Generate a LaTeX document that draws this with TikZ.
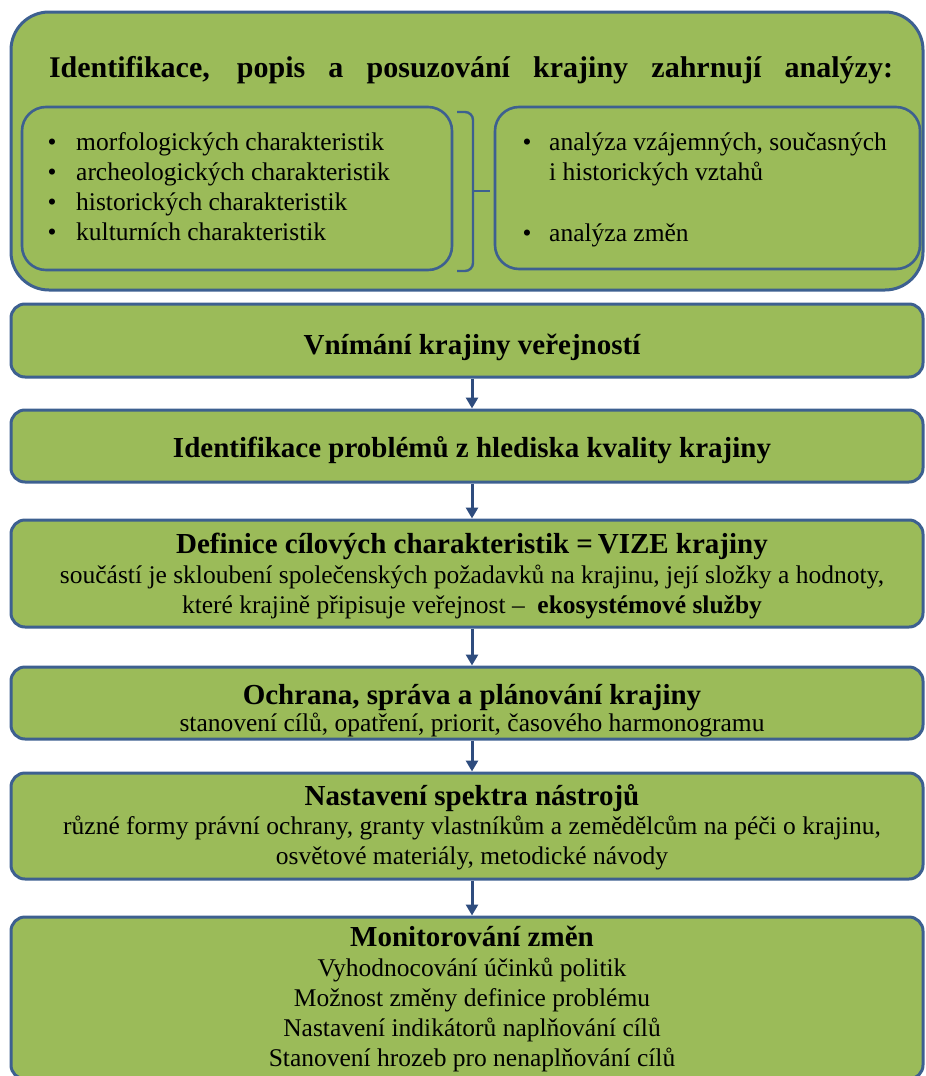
\documentclass[tikz,border=0pt]{standalone}
\usepackage{fontspec}
\setmainfont{Liberation Serif}
\usepackage{tikz}
\usetikzlibrary{arrows.meta}
\definecolor{lGreen}{HTML}{9BBB59}
\definecolor{lEdge}{HTML}{3D6090}
\definecolor{lDark}{HTML}{2E4C7E}
\tikzset{
  lBox/.style={draw=lEdge,fill=lGreen,line width=3pt,rounded corners=14pt,
        inner sep=0pt,minimum width=912pt},
  lInner/.style={lBox,line width=2.6pt,rounded corners=24pt},
  lTitle/.style={anchor=base,inner sep=0pt,font=\fontsize{29}{34}\selectfont\bfseries},
  lText/.style={anchor=base,inner sep=0pt,align=center,font=\fontsize{25.5}{30}\selectfont},
  lList/.style={anchor=base west,inner sep=0pt,align=left,font=\fontsize{25.5}{30}\selectfont},
  lArrow/.style={draw=lDark,line width=3pt,-{Triangle[width=12pt,length=11pt]}},
}
\newcommand\lbul[1][28.5pt]{\makebox[#1][l]{\textbullet}}

\begin{document}
\begin{tikzpicture}[x=1pt,y=-1pt]
\useasboundingbox (0,0) rectangle (926,1076);
% analyses (multi-line texts sit on the baseline of their last line)
\node[lBox,rounded corners=38pt,minimum height=278pt] (anal) at (467,151) {};
\node[lTitle,font=\fontsize{30}{36}\selectfont\bfseries] (analT) at (471,77)
  {\makebox[844pt][s]{Identifikace, popis a posuzování krajiny zahrnují analýzy:}};
\node[lInner,minimum width=430pt,minimum height=163pt] (charL) at (237,188.5) {};
\node[lInner,minimum width=425pt,minimum height=162pt] (charR) at (707.5,188) {};
\node[lList] (charLT) at (47.5,240) {\lbul morfologických charakteristik\\\lbul archeologických charakteristik\\\lbul historických charakteristik\\\lbul kulturních charakteristik};
\node[lList] (charRT) at (522.5,241) {\lbul[26.5pt]analýza vzájemných, současných\\\hspace*{26.5pt}i historických vztahů\\[31pt]\lbul[26.5pt]analýza změn};
\draw[lEdge,line width=2.4pt,rounded corners=8pt] (457,112) -- (473,112) -- (473,271) -- (457,271);
\draw[lEdge,line width=2.4pt] (473,191) -- (490,191);
% flow
\node[lBox,minimum height=73pt] (vnim) at (467,340.5) {};
\node[lTitle] (vnimT) at (472,354) {Vnímání krajiny veřejností};
\node[lBox,minimum height=72pt] (probl) at (467,446) {};
\node[lTitle] (problT) at (472,457) {Identifikace problémů z hlediska kvality krajiny};
\node[lBox,minimum height=107pt] (vize) at (467,573.5) {};
\node[lTitle] (vizeT) at (472,553) {Definice cílových charakteristik =\,VIZE krajiny};
\node[lText] (vizeB) at (472,613) {součástí je skloubení společenských požadavků na krajinu, její složky a hodnoty,\\které krajině připisuje veřejnost –\enspace\textbf{ekosystémové služby}};
\node[lBox,minimum height=72pt] (ochr) at (467,703) {};
\node[lTitle] (ochrT) at (472,704) {Ochrana, správa a plánování krajiny};
\node[lText] (ochrB) at (472,731) {stanovení cílů, opatření, priorit, časového harmonogramu};
\node[lBox,minimum height=106pt] (nastr) at (467,826) {};
\node[lTitle] (nastrT) at (472,805) {Nastavení spektra nástrojů};
\node[lText] (nastrB) at (472,864) {různé formy právní ochrany, granty vlastníkům a zemědělcům na péči o krajinu,\\osvětové materiály, metodické návody};
\node[lBox,minimum height=162pt] (monit) at (467,998) {};
\node[lTitle] (monitT) at (472,946) {Monitorování změn};
\node[lText] (monitB) at (472,1066) {Vyhodnocování účinků politik\\Možnost změny definice problému\\Nastavení indikátorů naplňování cílů\\Stanovení hrozeb pro nenaplňování cílů};
\draw[lArrow] (vnim.south -| vnimT) -- (probl.north -| vnimT);
\draw[lArrow] (probl.south -| vnimT) -- (vize.north -| vnimT);
\draw[lArrow] (vize.south -| vnimT) -- (ochr.north -| vnimT);
\draw[lArrow] (ochr.south -| vnimT) -- (nastr.north -| vnimT);
\draw[lArrow] (nastr.south -| vnimT) -- (monit.north -| vnimT);
\end{tikzpicture}
\end{document}
